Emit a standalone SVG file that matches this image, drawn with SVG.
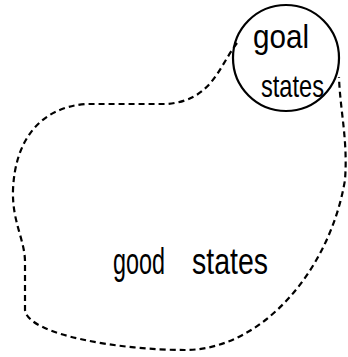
<svg xmlns="http://www.w3.org/2000/svg" width="348" height="357" viewBox="0 0 348 357">
<style>
.t{font-family:"Liberation Sans",Arial,sans-serif;fill:#000}
.blob{fill:none;stroke:#000;stroke-width:2.2;stroke-dasharray:6,4}
</style>
<rect width="348" height="357" fill="#fff"/>
<g id="connectors">
<path class="blob" d="M 237 43 C 218 68, 212 100, 167 104 L 85 104 C 40 108, 15 140, 13 190 C 12 222, 25 240, 25 262 L 25 310 C 28 335, 120 350, 185 350 C 262 350, 330 270, 345 180 C 348 140, 340 110, 339 77"/>
</g>
<g id="good-states">
<text class="t" x="113" y="274" font-size="36" textLength="52" lengthAdjust="spacingAndGlyphs">good</text>
<text class="t" x="192" y="274" font-size="36" textLength="76" lengthAdjust="spacingAndGlyphs">states</text>
</g>
<g id="goal-states">
<circle cx="286" cy="58" r="53" fill="none" stroke="#000" stroke-width="2.2"/>
<text class="t" x="253" y="48" font-size="34" textLength="56" lengthAdjust="spacingAndGlyphs">goal</text>
<text class="t" x="261" y="97" font-size="32" textLength="63" lengthAdjust="spacingAndGlyphs">states</text>
</g>
</svg>
